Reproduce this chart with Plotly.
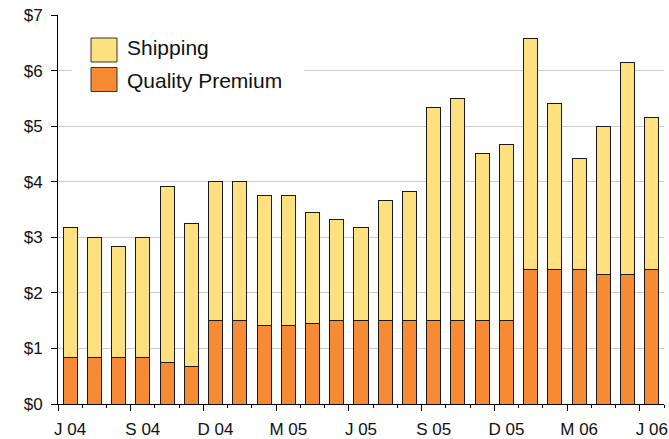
import plotly.graph_objects as go

months = ["Jun 04", "Jul 04", "Aug 04", "Sep 04", "Oct 04", "Nov 04", "Dec 04", "Jan 05", "Feb 05",
          "Mar 05", "Apr 05", "May 05", "Jun 05", "Jul 05", "Aug 05", "Sep 05", "Oct 05", "Nov 05",
          "Dec 05", "Jan 06", "Feb 06", "Mar 06", "Apr 06", "May 06", "Jun 06"]
quality_premium = [0.84, 0.84, 0.84, 0.84, 0.75, 0.67, 1.5, 1.5, 1.42, 1.42, 1.45, 1.5, 1.5,
                   1.5, 1.5, 1.5, 1.5, 1.5, 1.5, 2.42, 2.42, 2.42, 2.33, 2.33, 2.42]
shipping = [2.33, 2.16, 1.99, 2.16, 3.16, 2.58, 2.5, 2.5, 2.33, 2.33, 2.0, 1.82, 1.67,
            2.17, 2.33, 3.83, 4.0, 3.0, 3.17, 4.16, 2.99, 2.0, 2.67, 3.82, 2.74]
tick_labels = ["J 04", "S 04", "D 04", "M 05", "J 05", "S 05", "D 05", "M 06", "J 06"]
y_ticks = [0, 1, 2, 3, 4, 5, 6, 7]

n = len(months)
xs = list(range(n))
label_pos = xs[::3]
boundary_pos = [p - 0.5 for p in label_pos]

YELLOW = "#FEE07F"
ORANGE = "#F68B33"
FONT = "Liberation Sans, Arial, Helvetica, sans-serif"

fig = go.Figure()
fig.add_trace(go.Bar(x=xs, y=quality_premium, name="Quality Premium", customdata=months,
                     marker=dict(color=ORANGE, line=dict(color="#1a1a1a", width=1))))
fig.add_trace(go.Bar(x=xs, y=shipping, name="Shipping", customdata=months,
                     marker=dict(color=YELLOW, line=dict(color="#1a1a1a", width=1))))
# invisible helper trace so the label axis is drawn
fig.add_trace(go.Scatter(x=xs, y=[0] * n, xaxis="x2", mode="markers",
                         marker=dict(opacity=0), hoverinfo="skip", showlegend=False))

W, H = 669, 439
L, R, T, B = 58, 5, 15, 35
pw, ph = W - L - R, H - T - B


def px(x):
    return (x - L) / pw


def py(y):
    return (H - B - y) / ph


shapes = [
    dict(type="rect", xref="paper", yref="paper", x0=px(72), x1=px(304), y0=py(106), y1=py(22),
         fillcolor="white", line=dict(width=0), layer="above"),
    dict(type="rect", xref="paper", yref="paper", x0=px(91), x1=px(117), y0=py(62), y1=py(38),
         fillcolor=YELLOW, line=dict(color="#333", width=1), layer="above"),
    dict(type="rect", xref="paper", yref="paper", x0=px(91), x1=px(117), y0=py(91.5), y1=py(67.5),
         fillcolor=ORANGE, line=dict(color="#333", width=1), layer="above"),
]
annotations = [
    dict(xref="paper", yref="paper", x=px(125), y=py(48), text="Shipping", showarrow=False,
         xanchor="left", yanchor="middle", font=dict(family=FONT, size=21, color="#111")),
    dict(xref="paper", yref="paper", x=px(125), y=py(80), text="Quality Premium", showarrow=False,
         xanchor="left", yanchor="middle", font=dict(family=FONT, size=21, color="#111")),
]

fig.update_layout(
    width=W, height=H,
    margin=dict(l=L, r=R, t=T, b=B, autoexpand=False),
    barmode="stack", bargap=0.42,
    plot_bgcolor="white", paper_bgcolor="white",
    showlegend=False,
    font=dict(family=FONT, size=17, color="#111"),
    shapes=shapes, annotations=annotations,
    xaxis=dict(range=[-0.5, n - 0.5], tickmode="array", tickvals=boundary_pos,
               ticktext=[""] * len(boundary_pos), ticks="outside", ticklen=6,
               tickcolor="black", tickwidth=1, showline=True, linecolor="black", linewidth=1,
               showgrid=False, zeroline=False, automargin=False,
               minor=dict(tickmode="linear", tick0=-0.5, dtick=1, ticks="outside", ticklen=3,
                          tickcolor="black", tickwidth=1, showgrid=False)),
    xaxis2=dict(range=[-0.5, n - 0.5], overlaying="x", side="bottom", anchor="y",
                tickmode="array", tickvals=label_pos, ticktext=tick_labels,
                ticks="outside", ticklen=10, tickcolor="rgba(0,0,0,0)",
                showline=False, showgrid=False, zeroline=False, automargin=False,
                tickfont=dict(family=FONT, size=17, color="#111")),
    yaxis=dict(range=[0, 7], tickmode="array", tickvals=y_ticks,
               ticktext=["$%d" % v for v in y_ticks], ticks="outside", ticklen=6,
               tickcolor="black", showline=True, linecolor="black", linewidth=1,
               showgrid=True, gridcolor="#cccccc", gridwidth=1, zeroline=False,
               automargin=False, ticklabelstandoff=5,
               tickfont=dict(family=FONT, size=17, color="#111")),
)

post = (
    "document.documentElement.style.margin='0px';"
    "document.documentElement.style.overflow='hidden';"
    "document.body.style.margin='0px';"
    "document.body.style.overflow='hidden';"
    "var d=document.getElementById('{plot_id}');"
    "d.style.display='block';"
    "if(d.parentElement){d.parentElement.style.display='block';d.parentElement.style.lineHeight='0';}"
)
fig.write_html("out.html", config={"displayModeBar": False}, post_script=post)
